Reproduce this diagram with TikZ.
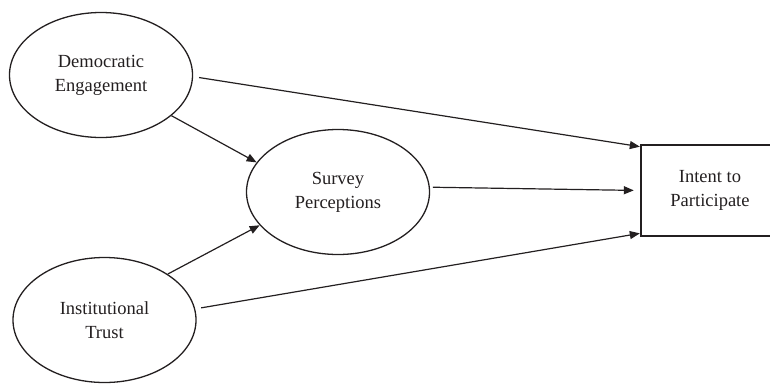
\documentclass[tikz,border=0pt]{standalone}
\usepackage{fontspec}
\setmainfont{Liberation Serif}
\usetikzlibrary{shapes.geometric,arrows.meta}
\definecolor{ink}{HTML}{231F20}
\begin{document}
\begin{tikzpicture}[x=1bp,y=-1bp,
  lbl/.style={font=\fontsize{18.5bp}{24bp}\selectfont, text=ink, align=center},
  oval/.style={ellipse, draw=ink, line width=1.3bp, minimum width=183bp, minimum height=125bp, inner sep=0pt, lbl},
  box/.style={rectangle, minimum width=138bp, minimum height=91bp, inner sep=0pt, lbl},
  boxline/.style={draw=ink, line width=1.5bp},
  arr/.style={draw=ink, line width=1.2bp, -{Triangle[length=10bp,width=8bp]}}]
\useasboundingbox (0,0) rectangle (770,384);
\node[oval] (DE) at (101,75) {Democratic\\Engagement};
\node[oval] (SP) at (338,192) {Survey\\Perceptions};
\node[oval] (IT) at (104.5,320) {Institutional\\Trust};
\node[box] (IP) at (710,190.5) {Intent to\\Participate};
\coordinate (TR) at (IP.north -| 770,0);
\coordinate (BR) at (IP.south -| 770,0);
\draw[boxline] (TR) -- (IP.north west) -- (IP.south west) -- (BR);
\draw[arr, shorten <=6bp, shorten >=1bp] (DE.-1) -- ([yshift=-2bp]IP.north west);
\draw[arr] (DE.-30) -- (SP.160);
\draw[arr] (IT.36) -- (SP.-157);
\draw[arr, shorten <=6bp, shorten >=1bp] (IT.7) -- ([yshift=3bp]IP.south west);
\draw[arr, shorten <=3bp, shorten >=7bp] (SP.3) -- (IP.west);
\end{tikzpicture}
\end{document}
